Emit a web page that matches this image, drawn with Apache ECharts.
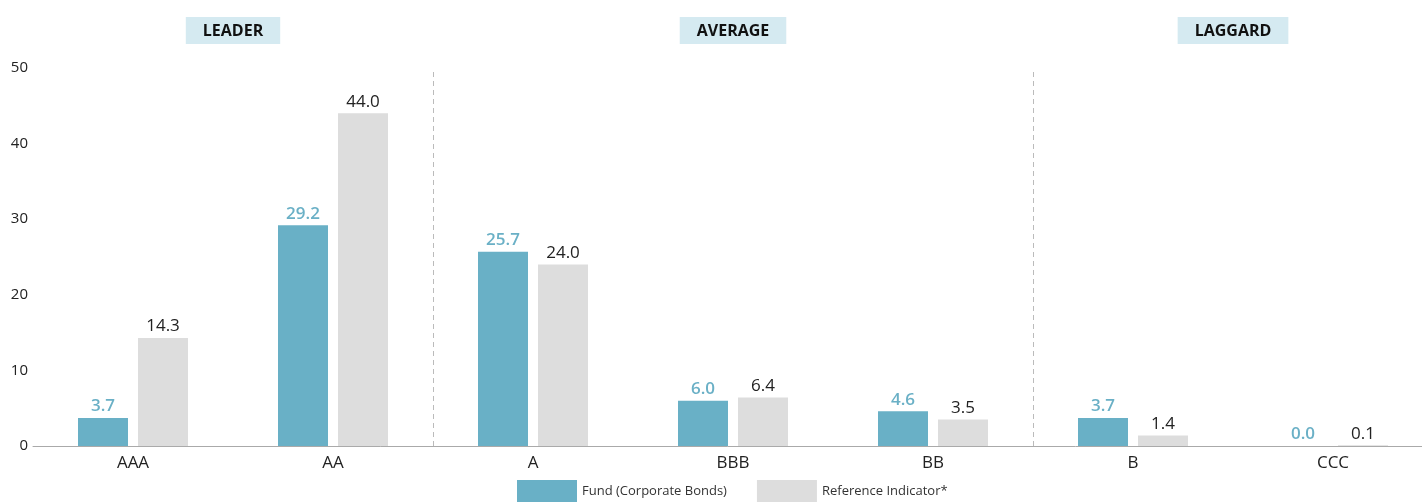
<!DOCTYPE html>
<html><head><meta charset="utf-8">
<script src="https://cdn.jsdelivr.net/npm/echarts@6/dist/echarts.min.js"></script>
<style>html,body{margin:0;padding:0;background:#fff}#c{width:1422px;height:502px}</style>
</head><body><div id="c"></div>
<script>
const categories = ['AAA','AA','A','BBB','BB','B','CCC'];
const fundValues = [3.7, 29.2, 25.7, 6.0, 4.6, 3.7, 0.0];
const refValues = [14.3, 44.0, 24.0, 6.4, 3.5, 1.4, 0.1];
const yTicks = {min: 0, max: 50, interval: 10};
const groups = [
  {name: 'LEADER', from: 0, to: 2},
  {name: 'AVERAGE', from: 2, to: 5},
  {name: 'LAGGARD', from: 5, to: 7}
];
const seriesNames = ['Fund (Corporate Bonds)', 'Reference Indicator*'];

const chart = echarts.init(document.getElementById('c'));
const font = "'Open Sans', 'Noto Sans', sans-serif";
chart.setOption({
  animation: false,
  textStyle: {fontFamily: font},
  grid: {left: 33, top: 68, bottom: 56, width: 1400, outerBoundsMode: 'none', containLabel: false},
  legend: {
    bottom: -5, left: 512, itemWidth: 60, itemHeight: 22, itemGap: 30,
    icon: 'rect', data: seriesNames,
    textStyle: {fontSize: 13, color: '#333', fontFamily: font, padding: [6, 0, 0, 0]}
  },
  xAxis: [{
    type: 'category', data: categories,
    axisLine: {lineStyle: {color: '#aaa', width: 1}},
    axisTick: {show: false},
    axisLabel: {fontSize: 17, color: '#222', margin: 9, fontFamily: font}
  }, {
    type: 'value', min: 0, max: categories.length, show: false
  }],
  yAxis: {
    type: 'value', min: yTicks.min, max: yTicks.max, interval: yTicks.interval,
    splitLine: {show: false}, axisLine: {show: false}, axisTick: {show: false},
    axisLabel: {fontSize: 15, color: '#222', margin: 5, fontFamily: font}
  },
  series: [{
    name: seriesNames[0], type: 'bar', data: fundValues, barWidth: 50, barGap: '20%',
    itemStyle: {color: '#69b0c6'},
    label: {show: true, position: 'top', distance: 3, color: '#6ab0c6', fontSize: 17, fontWeight: 600,
      fontFamily: font, formatter: p => p.value.toFixed(1)}
  }, {
    name: seriesNames[1], type: 'bar', data: refValues, barWidth: 50,
    itemStyle: {color: '#dddddd'},
    label: {show: true, position: 'top', distance: 3, color: '#222', fontSize: 17,
      fontFamily: font, formatter: p => p.value.toFixed(1)}
  }, {
    type: 'line', xAxisIndex: 1, yAxisIndex: 0, data: [], silent: true,
    markLine: {
      symbol: 'none', silent: true, label: {show: false},
      lineStyle: {type: [5, 4], color: '#bbb', width: 1},
      data: groups.slice(1).map(g => ({xAxis: g.from}))
    },
    markArea: {
      silent: true,
      itemStyle: {color: 'rgba(0,0,0,0)'},
      label: {show: true, position: 'top', distance: 24, color: '#111', fontSize: 16, fontWeight: 'bold',
        fontFamily: font, backgroundColor: '#d5eaf1', padding: [6, 17, 5, 17]},
      data: groups.map(g => [{name: g.name, xAxis: g.from, yAxis: yTicks.min}, {xAxis: g.to, yAxis: yTicks.max}])
    }
  }]
});
</script></body></html>
